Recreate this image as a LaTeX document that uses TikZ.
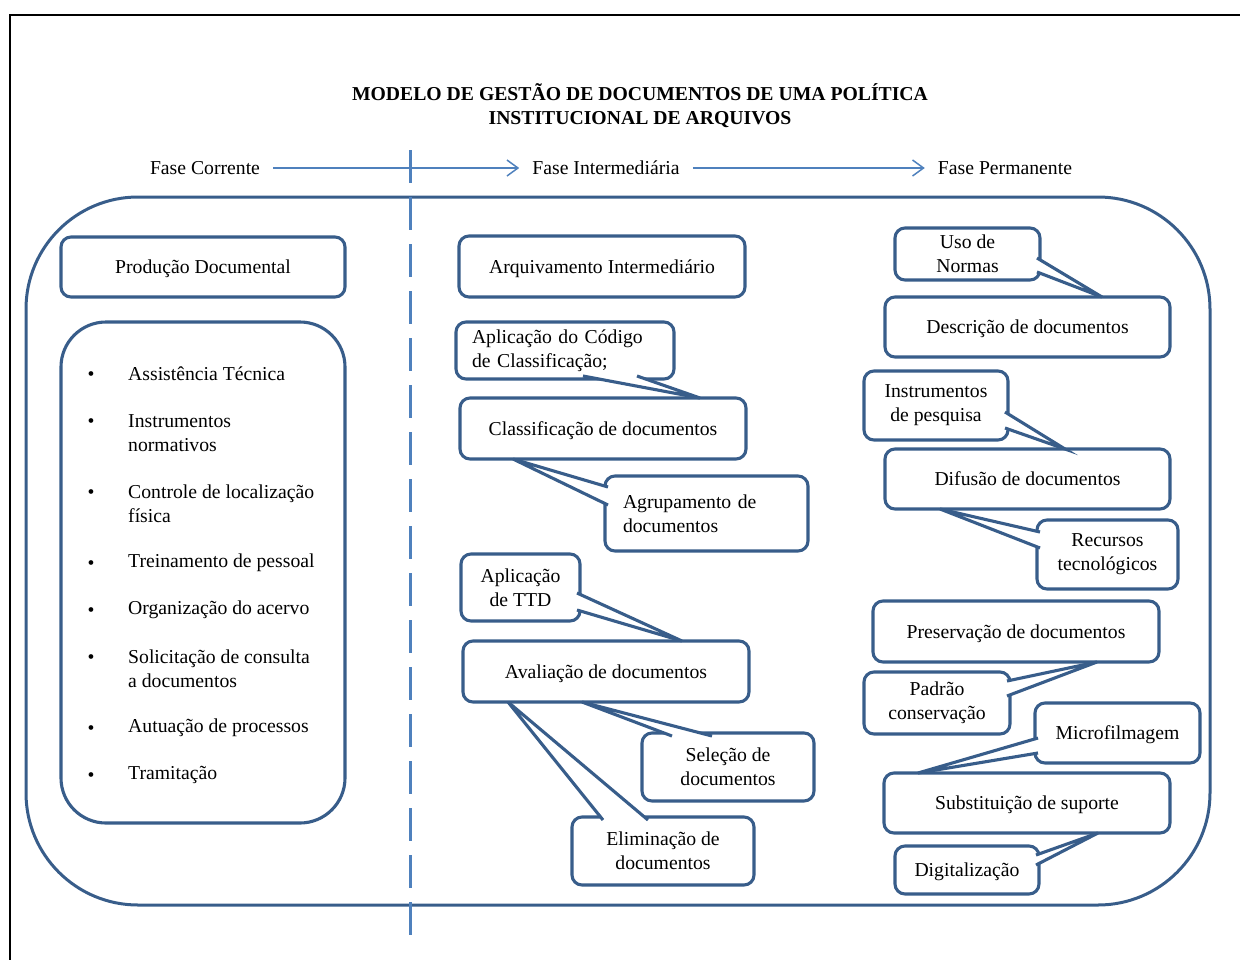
\documentclass[tikz,border=0pt]{standalone}
\usepackage{fontspec}
\setmainfont{Liberation Serif}
\usetikzlibrary{arrows.meta, positioning, calc}
\definecolor{boxblue}{RGB}{56,93,138}
\definecolor{lineblue}{RGB}{79,129,189}

\begin{document}
\begin{tikzpicture}[x=1pt, y=-1pt,
    every node/.style={font=\fontsize{19.7}{24}\selectfont},
    box/.style={draw=boxblue, line width=3.1pt, rounded corners=10pt, fill=white,
        outer sep=0pt, inner sep=0pt, align=center},
    oneline/.style={text height=17.5pt, text depth=4.3pt},
    callptr/.style={draw=boxblue, line width=3.1pt, fill=white},
    phase/.style={inner xsep=13pt, inner ysep=0pt, text height=16pt, text depth=4pt},
    flow/.style={draw=lineblue, line width=1.5pt, -{Straight Barb[length=11pt,width=16pt]}},
    item/.style={anchor=west, align=left, inner sep=0pt}]
    \useasboundingbox (0,0) rectangle (1240,959);
    % Page frame
    \draw[line width=2pt] (10,970) -- (10,15) -- (1250,15);
    % Title
    \node[font=\fontsize{19.7}{24}\selectfont\bfseries, align=center] (title) at (640,106)
        {MODELO DE GESTÃO DE DOCUMENTOS DE UMA POLÍTICA\\INSTITUCIONAL DE ARQUIVOS};
    % Phases with arrows
    \node[phase] (corr) at (205,168) {Fase Corrente};
    \node[phase] (inter) at (606,168) {Fase Intermediária};
    \node[phase] (perm) at (1005,168) {Fase Permanente};
    \draw[flow] (corr.east) -- (inter.west);
    \draw[flow] (inter.east) -- (perm.west);
    % Big rounded frame and dividing line
    \draw[boxblue, line width=3pt, rounded corners=112pt] (26,197) rectangle (1210,905);
    \draw[lineblue, line width=3pt, dash pattern=on 33pt off 14pt] (410,150) -- (410,938);

    % Current phase
    \node[box, oneline, minimum width=284pt, minimum height=60pt] (prod) at (203,267) {Produção Documental};
    \node[box, rounded corners=45pt, minimum width=284pt, minimum height=501pt] (lista) at (203,572.5) {};
    \foreach \n/\y/\b/\txt in {1/374/374/{Assistência Técnica},
            2/433/421/{Instrumentos\\normativos},
            3/504/492/{Controle de localização\\física},
            4/563/563/{Treinamento de pessoal},
            5/610/610/{Organização do acervo},
            6/669/657/{Solicitação de consulta\\a documentos},
            7/728/728/{Autuação de processos},
            8/775/775/{Tramitação}} {
        \node[inner sep=0pt] (bul\n) at (91,\b+2) {\textbullet};
        \node[item] (it\n) at (128,\y) {\txt};
    }

    % Intermediate phase
    \node[box, oneline, minimum width=286pt, minimum height=61pt] (arqi) at (602,266.5) {Arquivamento Intermediário};
    \node[box, oneline, minimum width=286pt, minimum height=61pt] (class) at (603,428.5) {Classificação de documentos};
    \node[box, oneline, minimum width=286pt, minimum height=61pt] (aval) at (606,671.5) {Avaliação de documentos};
    % callouts
    \node[box, align=left, text width=186pt, minimum width=218pt, minimum height=57pt] (codigo) at (565,350.5)
        {Aplicação do Código\\de Classificação;};
    \draw[callptr] ($(codigo.south)+(18,-3)$) -- (class.north -| 700,0) -- ($(codigo.south)+(72,-3)$);
    \node[box, align=left, text width=167pt, minimum width=203pt, minimum height=75pt] (agrup) at (706.5,513.5)
        {Agrupamento de\\documentos};
    \draw[callptr] ($(agrup.west)+(3,-26.5)$) -- (class.south -| 513,0) -- ($(agrup.west)+(3,-8.5)$);
    \node[box, minimum width=119pt, minimum height=67pt] (ttd) at (520.5,587.5) {Aplicação\\de TTD};
    \draw[callptr] ($(ttd.east)+(-3,5.5)$) -- (aval.north -| 682,0) -- ($(ttd.east)+(-3,22.5)$);
    \node[box, minimum width=172pt, minimum height=68pt] (sel) at (728,767) {Seleção de\\documentos};
    \draw[callptr] ($(sel.north)+(-56,3)$) -- (aval.south -| 582,0) -- ($(sel.north)+(-16,3)$);
    \node[box, minimum width=182pt, minimum height=68pt] (elim) at (663,851) {Eliminação de\\documentos};
    \draw[callptr] ($(elim.north)+(-60,3)$) -- (aval.south -| 508,0) -- ($(elim.north)+(-15,3)$);

    % Permanent phase
    \node[box, oneline, minimum width=285pt, minimum height=60pt] (desc) at (1027.5,327) {Descrição de documentos};
    \node[box, oneline, minimum width=285pt, minimum height=60pt] (difu) at (1027.5,479) {Difusão de documentos};
    \node[box, oneline, minimum width=286pt, minimum height=61pt] (pres) at (1016,631.5) {Preservação de documentos};
    \node[box, oneline, minimum width=286pt, minimum height=60pt] (subst) at (1027,803) {Substituição de suporte};
    % callouts
    \node[box, minimum width=145pt, minimum height=52pt] (uso) at (967.5,254) {Uso de\\Normas};
    \draw[callptr] ($(uso.east)+(-3,4)$) -- (desc.north -| 1102,0) -- ($(uso.east)+(-3,18)$);
    \node[box, minimum width=144pt, minimum height=69pt] (instr) at (936,405.5) {Instrumentos\\de pesquisa};
    \draw[callptr] ($(instr.east)+(-3,6.5)$) -- (difu.north -| 1065,0) -- ($(instr.east)+(-3,22.5)$);
    \node[box, minimum width=141pt, minimum height=69pt] (recur) at (1107.5,554.5) {Recursos\\tecnológicos};
    \draw[callptr] ($(recur.west)+(3,-22.5)$) -- (difu.south -| 940,0) -- ($(recur.west)+(3,-6.5)$);
    \node[box, minimum width=146pt, minimum height=62pt] (padrao) at (937,703) {Padrão\\conservação};
    \draw[callptr] ($(padrao.east)+(-3,-22)$) -- (pres.south -| 1097,0) -- ($(padrao.east)+(-3,-7)$);
    \node[box, oneline, minimum width=165pt, minimum height=60pt] (micro) at (1117.5,733) {Microfilmagem};
    \draw[callptr] ($(micro.west)+(3,5)$) -- (subst.north -| 918,0) -- ($(micro.west)+(3,20)$);
    \node[box, oneline, minimum width=144pt, minimum height=48pt] (digit) at (967,870) {Digitalização};
    \draw[callptr] ($(digit.east)+(-3,-15)$) -- (subst.south -| 1098,0) -- ($(digit.east)+(-3,-5)$);
\end{tikzpicture}
\end{document}
